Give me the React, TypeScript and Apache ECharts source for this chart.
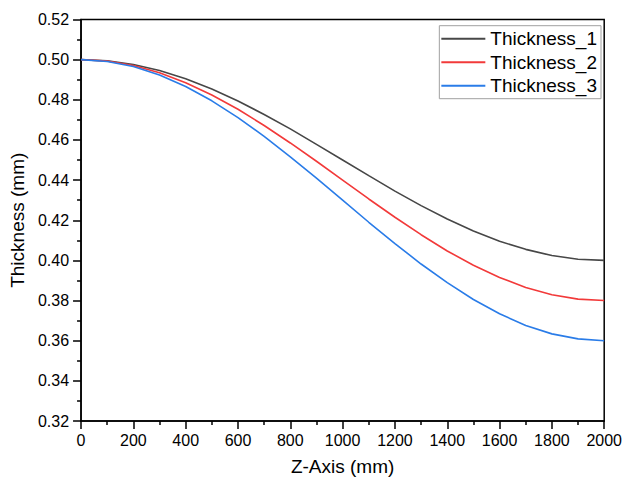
import React, { useEffect, useRef } from "react";
import * as echarts from "echarts";

const zAxis = [0, 100, 200, 300, 400, 500, 600, 700, 800, 900, 1000, 1100, 1200, 1300, 1400, 1500, 1600, 1700, 1800, 1900, 2000];
const thickness1 = [0.5, 0.4994, 0.4976, 0.4946, 0.4905, 0.4854, 0.4794, 0.4727, 0.4655, 0.4578, 0.45, 0.4422, 0.4345, 0.4273, 0.4206, 0.4146, 0.4095, 0.4055, 0.4024, 0.4006, 0.4];
const thickness2 = [0.5, 0.4993, 0.4971, 0.4935, 0.4885, 0.4824, 0.4753, 0.4672, 0.4585, 0.4494, 0.44, 0.4306, 0.4215, 0.4128, 0.4047, 0.3976, 0.3915, 0.3865, 0.3829, 0.3807, 0.38];
const thickness3 = [0.5, 0.4991, 0.4966, 0.4924, 0.4866, 0.4795, 0.4711, 0.4618, 0.4516, 0.441, 0.43, 0.419, 0.4084, 0.3982, 0.3889, 0.3805, 0.3734, 0.3676, 0.3634, 0.3609, 0.36];
const seriesNames = ["Thickness_1", "Thickness_2", "Thickness_3"];
const seriesColors = ["#474747", "#f23a3a", "#2a7ce8"];

const FONT = "'Liberation Sans', Arial, sans-serif";

export default function App() {
  const ref = useRef<HTMLDivElement>(null);
  useEffect(() => {
    if (!ref.current) return;
    const chart = echarts.init(ref.current, undefined, { renderer: "svg" });
    const all = [thickness1, thickness2, thickness3];
    chart.setOption({
      animation: false,
      backgroundColor: "#fff",
      textStyle: { fontFamily: FONT },
      grid: {
        left: 76.5,
        right: 18.5,
        top: 19.5,
        bottom: 57.3,
        show: true,
        borderColor: "#000",
        borderWidth: 1.5,
        containLabel: false,
      },
      legend: {
        orient: "vertical",
        right: 24,
        top: 25.7,
        data: seriesNames,
        icon: "rect",
        borderColor: "#a0a0a0",
        borderWidth: 1,
        padding: [3, 4, 3, 2],
        itemWidth: 44,
        itemHeight: 2,
        itemGap: 3.5,
        textStyle: { fontSize: 19, color: "#000", fontFamily: FONT, lineHeight: 20 },
      },
      xAxis: {
        type: "value",
        min: 0,
        max: 2000,
        interval: 200,
        name: "Z-Axis (mm)",
        nameLocation: "middle",
        nameGap: 36,
        nameTextStyle: { fontSize: 19, color: "#000", fontFamily: FONT },
        axisLine: { show: true, onZero: false, lineStyle: { color: "#000", width: 1.5 } },
        axisTick: { show: true, inside: false, length: 8, lineStyle: { color: "#000", width: 1.5 } },
        minorTick: { show: true, splitNumber: 2, length: 4, lineStyle: { color: "#000", width: 1.5 } },
        axisLabel: {
          fontSize: 16,
          color: "#000",
          margin: 11,
          fontFamily: FONT,
          formatter: (v: number) => String(v),
        },
        splitLine: { show: false },
      },
      yAxis: {
        type: "value",
        min: 0.32,
        max: 0.52,
        interval: 0.02,
        name: "Thickness (mm)",
        nameLocation: "middle",
        nameGap: 50,
        nameTextStyle: { fontSize: 19, color: "#000", fontFamily: FONT },
        axisLine: { show: true, onZero: false, lineStyle: { color: "#000", width: 1.5 } },
        axisTick: { show: true, inside: false, length: 8, lineStyle: { color: "#000", width: 1.5 } },
        minorTick: { show: true, splitNumber: 2, length: 4, lineStyle: { color: "#000", width: 1.5 } },
        axisLabel: {
          fontSize: 16,
          color: "#000",
          margin: 12,
          fontFamily: FONT,
          formatter: (v: number) => v.toFixed(2),
        },
        splitLine: { show: false },
      },
      series: all.map((vals, i) => ({
        name: seriesNames[i],
        type: "line",
        data: zAxis.map((z, j) => [z, vals[j]]),
        symbol: "none",
        showSymbol: false,
        smooth: false,
        lineStyle: { color: seriesColors[i], width: 1.6 },
        itemStyle: { color: seriesColors[i] },
      })),
    });
    return () => chart.dispose();
  }, []);
  return (
    <div
      ref={ref}
      style={{ position: "fixed", left: 0, top: 0, width: 625, height: 481 }}
    />
  );
}
